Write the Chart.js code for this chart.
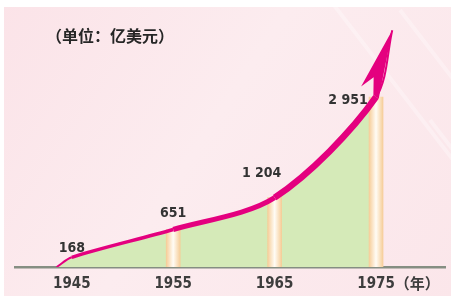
<!DOCTYPE html>
<html>
<head>
<meta charset="utf-8">
<script src="https://cdn.jsdelivr.net/npm/chart.js@4/dist/chart.umd.min.js"></script>
<style>
  html, body { margin: 0; padding: 0; background: #ffffff; }
  #wrap { width: 456px; height: 299px; }
</style>
</head>
<body>
<div id="wrap"><canvas id="c" width="456" height="299"></canvas></div>
<script>
// ---- data ----
const tickYears = [1945, 1955, 1965, 1975];
const tickLabels = ['1945', '1955', '1965', '1975'];
const pointYears = [1945, 1955, 1965, 1975];
const pointValues = [168, 651, 1204, 2951];
const valueLabels = ['168', '651', '1 204', '2 951'];
const barYears = [1955, 1965, 1975];
const barValues = [651, 1204, 2951];
const areaYears = [1943.5, 1945, 1955, 1965, 1975];
const areaValues = [0, 168, 651, 1204, 2951];
const curveYears = [1943.5, 1945, 1955, 1965, 1975, 1976.6];
const curveValues = [0, 168, 651, 1204, 2951, 4110];
const unitText = '（单位：亿美元）';
const yearUnitText = '（年）';

// ---- styles ----
const MAGENTA = '#e4007f';
const GREEN = '#d5eab8';
const segWidths = [2, 3.4, 5, 6.5, 2];
const labelOffsets = [[0, -9], [0, -16], [-13, -24], [-28, 3]];
const numFont = "'DejaVu Sans Condensed', 'Liberation Sans Narrow', 'Roboto Condensed', 'DejaVu Sans', sans-serif";
const cjkFont = "'Noto Sans CJK SC', 'Noto Sans', sans-serif";

const toXY = (xs, ys) => xs.map((x, i) => ({ x: x, y: ys[i] }));

const bgPlugin = {
  id: 'bg',
  beforeDraw(chart) {
    const c = chart.ctx;
    c.save();
    c.fillStyle = '#ffffff';
    c.fillRect(0, 0, chart.width, chart.height);
    const g = c.createLinearGradient(0, 0, chart.width, chart.height);
    g.addColorStop(0, '#fbe3e8');
    g.addColorStop(0.45, '#fcecef');
    g.addColorStop(1, '#fbe6ea');
    c.fillStyle = g;
    c.fillRect(4, 7, 447, 289);
    c.beginPath();
    c.rect(4, 7, 447, 289);
    c.clip();
    c.strokeStyle = 'rgba(255,255,255,0.3)';
    c.lineWidth = 4;
    [[330, 0], [400, 10], [430, 120]].forEach(([x0, y0]) => {
      c.beginPath();
      c.moveTo(x0, y0);
      c.lineTo(x0 + 200, y0 + 260);
      c.stroke();
    });
    c.restore();
  }
};

const overlayPlugin = {
  id: 'overlay',
  afterDatasetsDraw(chart) {
    const c = chart.ctx;
    const meta = chart.getDatasetMeta(2);
    const pts = meta.data;
    const tip = pts[pts.length - 1];
    const q = pts[pts.length - 2];
    let dx = tip.cp1x - tip.x, dy = tip.cp1y - tip.y;
    let len = Math.hypot(dx, dy);
    if (!len || !isFinite(len)) {
      dx = q.x - tip.x; dy = q.y - tip.y; len = Math.hypot(dx, dy);
    }
    const d = { x: dx / len, y: dy / len };
    const n = { x: -d.y, y: d.x };
    const P = (a, b) => [tip.x + a * d.x + b * n.x, tip.y + a * d.y + b * n.y];
    let tx = q.cp2x - q.cp1x, ty = q.cp2y - q.cp1y;
    let tl = Math.hypot(tx, ty) || 1;
    const m = { x: -ty / tl, y: tx / tl };
    const hw = segWidths[3] / 2;
    const poly = [P(0, 0), P(62, 17), P(50, 7),
      [q.x - hw * m.x, q.y - hw * m.y], [q.x + hw * m.x, q.y + hw * m.y]];
    c.save();
    c.fillStyle = MAGENTA;
    c.beginPath();
    c.moveTo(poly[0][0], poly[0][1]);
    for (let i = 1; i < poly.length; i++) c.lineTo(poly[i][0], poly[i][1]);
    c.closePath();
    c.fill();
    c.restore();
  },
  afterDraw(chart) {
    const c = chart.ctx;
    const xs = chart.scales.x, ys = chart.scales.y;
    c.save();
    c.textAlign = 'center';
    c.textBaseline = 'middle';
    c.fillStyle = '#333333';
    c.font = "bold 14px " + numFont;
    pointYears.forEach((yr, i) => {
      const px = xs.getPixelForValue(yr) + labelOffsets[i][0];
      const py = ys.getPixelForValue(pointValues[i]) + labelOffsets[i][1];
      c.fillText(valueLabels[i], px, py);
    });
    c.textAlign = 'left';
    c.fillStyle = '#262626';
    c.font = "bold 16px " + cjkFont;
    c.fillText(unitText, 46, 36);
    c.font = "bold 15px " + numFont;
    const lastX = xs.getPixelForValue(tickYears[tickYears.length - 1]);
    const w = c.measureText(tickLabels[tickLabels.length - 1]).width;
    c.font = "bold 15px " + cjkFont;
    c.fillStyle = '#3d3d3d';
    c.fillText(yearUnitText, lastX + w / 2, 283);
    c.restore();
  }
};

const barFill = (ctx) => {
  const chart = ctx.chart;
  if (!chart.chartArea || ctx.dataIndex === undefined) return '#f8d9b0';
  const x = chart.scales.x.getPixelForValue(barYears[ctx.dataIndex]);
  const g = chart.ctx.createLinearGradient(x - 7, 0, x + 7, 0);
  g.addColorStop(0, '#f6cd98');
  g.addColorStop(0.5, '#fffcf5');
  g.addColorStop(1, '#f6cd98');
  return g;
};

new Chart(document.getElementById('c'), {
  type: 'line',
  data: {
    datasets: [
      {
        type: 'line',
        data: toXY(areaYears, areaValues),
        fill: 'origin',
        backgroundColor: GREEN,
        borderWidth: 0,
        pointRadius: 0,
        tension: 0.3,
        order: 3
      },
      {
        type: 'bar',
        data: toXY(barYears, barValues),
        backgroundColor: barFill,
        borderWidth: 0,
        barThickness: 14,
        order: 2
      },
      {
        type: 'line',
        data: toXY(curveYears, curveValues),
        fill: false,
        borderColor: MAGENTA,
        borderWidth: 4,
        pointRadius: 0,
        tension: 0.3,
        segment: { borderWidth: (s) => segWidths[s.p0DataIndex] },
        order: 1
      }
    ]
  },
  options: {
    responsive: false,
    animation: false,
    devicePixelRatio: 1,
    layout: { padding: { left: 15, right: 11, top: 10, bottom: 0 } },
    plugins: { legend: { display: false }, tooltip: { enabled: false }, title: { display: false } },
    scales: {
      x: {
        type: 'linear',
        min: 1939.4,
        max: 1981.8,
        offset: false,
        grid: { display: false, drawTicks: false, offset: false },
        border: { display: true, color: '#858e82', width: 2.5 },
        afterBuildTicks: (s) => { s.ticks = tickYears.map(v => ({ value: v })); },
        afterFit: (s) => { s.height = 32; },
        ticks: {
          autoSkip: false,
          maxRotation: 0,
          padding: 8,
          color: '#3d3d3d',
          font: { family: numFont, size: 15, weight: 'bold' },
          callback: (v) => { const i = tickYears.indexOf(v); return i >= 0 ? tickLabels[i] : ''; }
        }
      },
      y: {
        display: false,
        min: 0,
        max: 4461
      }
    }
  },
  plugins: [bgPlugin, overlayPlugin]
});
</script>
</body>
</html>
